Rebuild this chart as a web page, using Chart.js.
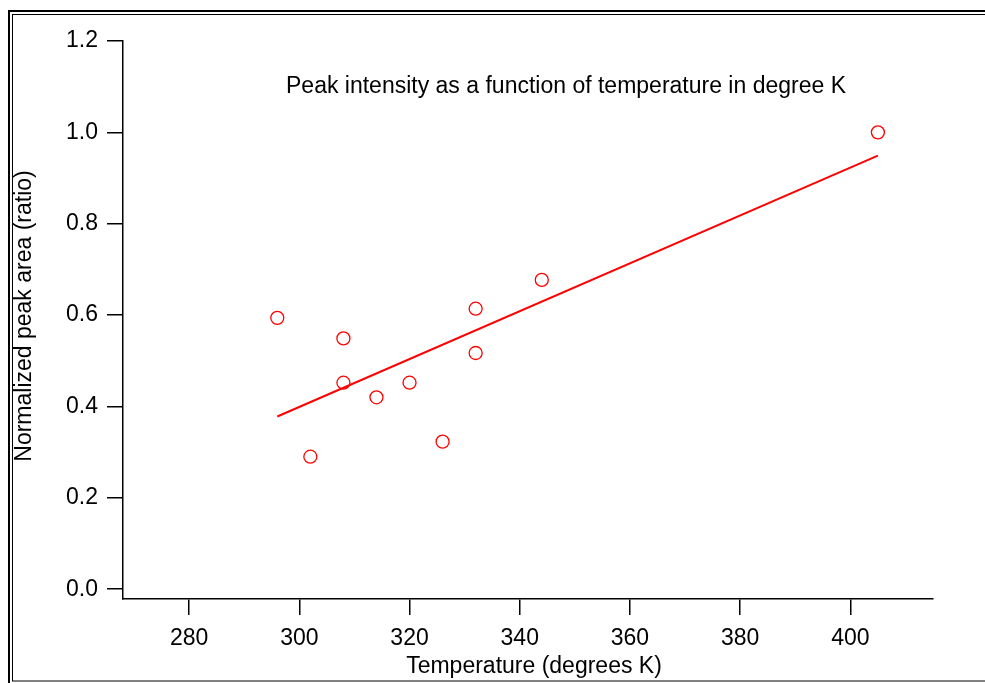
<!DOCTYPE html>
<html>
<head>
<meta charset="utf-8">
<script src="https://cdn.jsdelivr.net/npm/chart.js@4/dist/chart.umd.min.js"></script>
<style>
  html, body { margin: 0; padding: 0; background: #ffffff; }
  #wrap { width: 985px; height: 683px; position: relative; }
</style>
</head>
<body>
<div id="wrap"><canvas id="c" width="985" height="683"></canvas></div>
<script>
// Measured temperatures (K) and normalized peak areas
const temperatures = [296, 302, 308, 308, 314, 320, 326, 332, 332, 344, 405];
const peakAreas    = [0.594, 0.290, 0.549, 0.452, 0.420, 0.452, 0.323, 0.614, 0.517, 0.677, 1.000];

// Linear fit endpoints
const fitTemperatures = [296, 405];
const fitAreas        = [0.378, 0.949];

// Axis tick values
const xTickValues = [280, 300, 320, 340, 360, 380, 400];
const yTickValues = [0.0, 0.2, 0.4, 0.6, 0.8, 1.0, 1.2];

const chartTitle = 'Peak intensity as a function of temperature in degree K';
const xAxisTitle = 'Temperature (degrees K)';
const yAxisTitle = 'Normalized peak area (ratio)';

const FONT = '"Liberation Sans", Arial, sans-serif';
const FONT_SIZE = 23;
const RED = '#ff0000';

const pointData = temperatures.map((t, i) => ({ x: t, y: peakAreas[i] }));
const fitData = fitTemperatures.map((t, i) => ({ x: t, y: fitAreas[i] }));

// Double frame, plot title and axis titles
const decorations = {
  id: 'decorations',
  beforeDraw(chart) {
    const ctx = chart.ctx;
    ctx.save();
    ctx.fillStyle = '#ffffff';
    ctx.fillRect(0, 0, chart.width, chart.height);
    ctx.strokeStyle = '#000000';
    ctx.lineWidth = 2;
    ctx.strokeRect(9, 11, 1100, 1100);
    ctx.lineWidth = 1;
    ctx.strokeRect(12.5, 14.5, 1090, 666.5);
    ctx.restore();
  },
  afterDraw(chart) {
    const ctx = chart.ctx;
    ctx.save();
    ctx.fillStyle = '#000000';
    ctx.font = FONT_SIZE + 'px ' + FONT;
    ctx.textAlign = 'center';
    ctx.textBaseline = 'middle';
    ctx.fillText(chartTitle, 566, 87);
    ctx.fillText(xAxisTitle, 534, 667);
    ctx.translate(25, 316);
    ctx.rotate(-Math.PI / 2);
    ctx.fillText(yAxisTitle, 0, 0);
    ctx.restore();
  }
};

new Chart(document.getElementById('c'), {
  type: 'scatter',
  data: {
    datasets: [
      {
        label: 'fit',
        data: fitData,
        showLine: true,
        borderColor: RED,
        borderWidth: 2,
        pointRadius: 0,
        fill: false
      },
      {
        label: 'peak area',
        data: pointData,
        showLine: false,
        pointStyle: 'circle',
        pointRadius: 6.5,
        pointBorderWidth: 1.3,
        pointBorderColor: RED,
        pointBackgroundColor: 'rgba(0,0,0,0)'
      }
    ]
  },
  options: {
    responsive: false,
    animation: false,
    devicePixelRatio: 1,
    layout: { padding: { top: 41, right: 52, left: 0, bottom: 0 } },
    plugins: {
      legend: { display: false },
      title: { display: false },
      tooltip: { enabled: false }
    },
    scales: {
      x: {
        type: 'linear',
        position: 'bottom',
        min: 268,
        max: 415,
        afterBuildTicks(scale) { scale.ticks = xTickValues.map(v => ({ value: v })); },
        afterFit(scale) { scale.height = 84; },
        grid: { display: true, drawOnChartArea: false, drawTicks: true, tickLength: 16, color: '#000000', lineWidth: 1.5 },
        border: { display: true, color: '#000000', width: 1.5 },
        ticks: { color: '#000000', font: { family: FONT, size: FONT_SIZE }, padding: 10, maxRotation: 0, autoSkip: false, callback: v => String(v) }
      },
      y: {
        type: 'linear',
        position: 'left',
        min: -0.0215,
        max: 1.2,
        afterBuildTicks(scale) { scale.ticks = yTickValues.map(v => ({ value: v })); },
        afterFit(scale) { scale.width = 123; },
        grid: { display: true, drawOnChartArea: false, drawTicks: true, tickLength: 16, color: '#000000', lineWidth: 1.5 },
        border: { display: true, color: '#000000', width: 1.5 },
        ticks: { color: '#000000', font: { family: FONT, size: FONT_SIZE }, padding: 9, autoSkip: false, callback: v => Number(v).toFixed(1) }
      }
    }
  },
  plugins: [decorations]
});
</script>
</body>
</html>
